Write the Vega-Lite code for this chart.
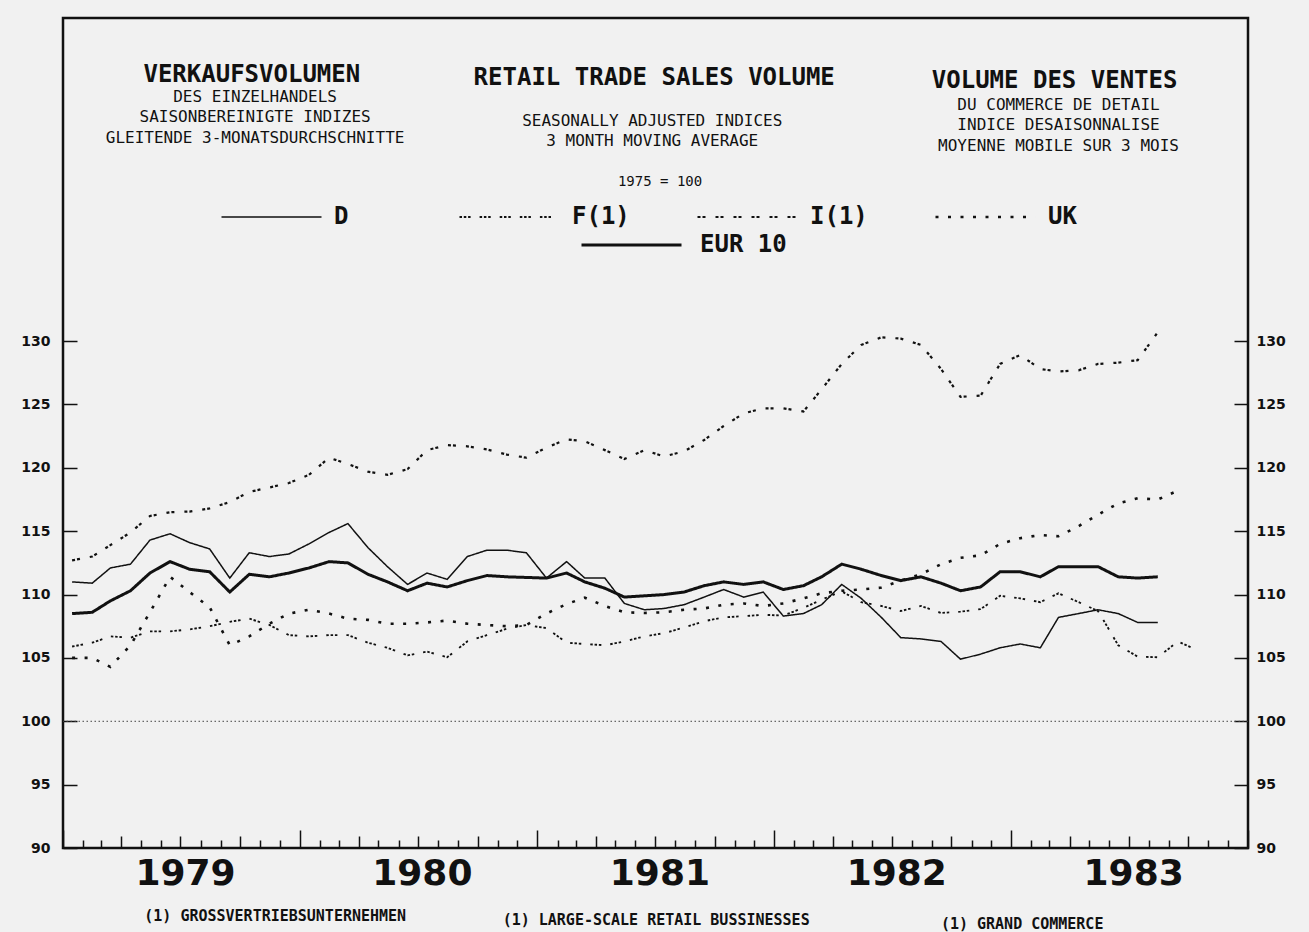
{
  "$schema": "https://vega.github.io/schema/vega-lite/v6.json",
  "width": 1185,
  "height": 830,
  "autosize": "none",
  "padding": {"left": 63, "top": 18, "right": 61, "bottom": 84},
  "background": "#f1f1f1",
  "config": {"view": {"stroke": "#111", "strokeWidth": 2.5}, "font": "DejaVu Sans Mono"},
  "datasets": {
    "rows": [
      {"series":"D","date":"1979-01-15","value":111.0},{"series":"D","date":"1979-02-15","value":110.9},{"series":"D","date":"1979-03-15","value":112.1},{"series":"D","date":"1979-04-15","value":112.4},{"series":"D","date":"1979-05-15","value":114.3},{"series":"D","date":"1979-06-15","value":114.8},{"series":"D","date":"1979-07-15","value":114.1},{"series":"D","date":"1979-08-15","value":113.6},{"series":"D","date":"1979-09-15","value":111.3},{"series":"D","date":"1979-10-15","value":113.3},{"series":"D","date":"1979-11-15","value":113.0},{"series":"D","date":"1979-12-15","value":113.2},
      {"series":"D","date":"1980-01-15","value":114.0},{"series":"D","date":"1980-02-15","value":114.9},{"series":"D","date":"1980-03-15","value":115.6},{"series":"D","date":"1980-04-15","value":113.7},{"series":"D","date":"1980-05-15","value":112.2},{"series":"D","date":"1980-06-15","value":110.8},{"series":"D","date":"1980-07-15","value":111.7},{"series":"D","date":"1980-08-15","value":111.2},{"series":"D","date":"1980-09-15","value":113.0},{"series":"D","date":"1980-10-15","value":113.5},{"series":"D","date":"1980-11-15","value":113.5},{"series":"D","date":"1980-12-15","value":113.3},
      {"series":"D","date":"1981-01-15","value":111.3},{"series":"D","date":"1981-02-15","value":112.6},{"series":"D","date":"1981-03-15","value":111.3},{"series":"D","date":"1981-04-15","value":111.3},{"series":"D","date":"1981-05-15","value":109.3},{"series":"D","date":"1981-06-15","value":108.8},{"series":"D","date":"1981-07-15","value":108.9},{"series":"D","date":"1981-08-15","value":109.2},{"series":"D","date":"1981-09-15","value":109.8},{"series":"D","date":"1981-10-15","value":110.4},{"series":"D","date":"1981-11-15","value":109.8},{"series":"D","date":"1981-12-15","value":110.2},
      {"series":"D","date":"1982-01-15","value":108.3},{"series":"D","date":"1982-02-15","value":108.5},{"series":"D","date":"1982-03-15","value":109.2},{"series":"D","date":"1982-04-15","value":110.8},{"series":"D","date":"1982-05-15","value":109.7},{"series":"D","date":"1982-06-15","value":108.2},{"series":"D","date":"1982-07-15","value":106.6},{"series":"D","date":"1982-08-15","value":106.5},{"series":"D","date":"1982-09-15","value":106.3},{"series":"D","date":"1982-10-15","value":104.9},{"series":"D","date":"1982-11-15","value":105.3},{"series":"D","date":"1982-12-15","value":105.8},
      {"series":"D","date":"1983-01-15","value":106.1},{"series":"D","date":"1983-02-15","value":105.8},{"series":"D","date":"1983-03-15","value":108.2},{"series":"D","date":"1983-04-15","value":108.5},{"series":"D","date":"1983-05-15","value":108.8},{"series":"D","date":"1983-06-15","value":108.5},{"series":"D","date":"1983-07-15","value":107.8},{"series":"D","date":"1983-08-15","value":107.8},

      {"series":"EUR 10","date":"1979-01-15","value":108.5},{"series":"EUR 10","date":"1979-02-15","value":108.6},{"series":"EUR 10","date":"1979-03-15","value":109.5},{"series":"EUR 10","date":"1979-04-15","value":110.3},{"series":"EUR 10","date":"1979-05-15","value":111.7},{"series":"EUR 10","date":"1979-06-15","value":112.6},{"series":"EUR 10","date":"1979-07-15","value":112.0},{"series":"EUR 10","date":"1979-08-15","value":111.8},{"series":"EUR 10","date":"1979-09-15","value":110.2},{"series":"EUR 10","date":"1979-10-15","value":111.6},{"series":"EUR 10","date":"1979-11-15","value":111.4},{"series":"EUR 10","date":"1979-12-15","value":111.7},
      {"series":"EUR 10","date":"1980-01-15","value":112.1},{"series":"EUR 10","date":"1980-02-15","value":112.6},{"series":"EUR 10","date":"1980-03-15","value":112.5},{"series":"EUR 10","date":"1980-04-15","value":111.6},{"series":"EUR 10","date":"1980-05-15","value":111.0},{"series":"EUR 10","date":"1980-06-15","value":110.3},{"series":"EUR 10","date":"1980-07-15","value":110.9},{"series":"EUR 10","date":"1980-08-15","value":110.6},{"series":"EUR 10","date":"1980-09-15","value":111.1},{"series":"EUR 10","date":"1980-10-15","value":111.5},{"series":"EUR 10","date":"1980-11-15","value":111.4},{"series":"EUR 10","date":"1980-12-15","value":111.35},
      {"series":"EUR 10","date":"1981-01-15","value":111.3},{"series":"EUR 10","date":"1981-02-15","value":111.7},{"series":"EUR 10","date":"1981-03-15","value":111.0},{"series":"EUR 10","date":"1981-04-15","value":110.5},{"series":"EUR 10","date":"1981-05-15","value":109.8},{"series":"EUR 10","date":"1981-06-15","value":109.9},{"series":"EUR 10","date":"1981-07-15","value":110.0},{"series":"EUR 10","date":"1981-08-15","value":110.2},{"series":"EUR 10","date":"1981-09-15","value":110.7},{"series":"EUR 10","date":"1981-10-15","value":111.0},{"series":"EUR 10","date":"1981-11-15","value":110.8},{"series":"EUR 10","date":"1981-12-15","value":111.0},
      {"series":"EUR 10","date":"1982-01-15","value":110.4},{"series":"EUR 10","date":"1982-02-15","value":110.7},{"series":"EUR 10","date":"1982-03-15","value":111.4},{"series":"EUR 10","date":"1982-04-15","value":112.4},{"series":"EUR 10","date":"1982-05-15","value":112.0},{"series":"EUR 10","date":"1982-06-15","value":111.5},{"series":"EUR 10","date":"1982-07-15","value":111.1},{"series":"EUR 10","date":"1982-08-15","value":111.4},{"series":"EUR 10","date":"1982-09-15","value":110.9},{"series":"EUR 10","date":"1982-10-15","value":110.3},{"series":"EUR 10","date":"1982-11-15","value":110.6},{"series":"EUR 10","date":"1982-12-15","value":111.8},
      {"series":"EUR 10","date":"1983-01-15","value":111.8},{"series":"EUR 10","date":"1983-02-15","value":111.4},{"series":"EUR 10","date":"1983-03-15","value":112.2},{"series":"EUR 10","date":"1983-04-15","value":112.2},{"series":"EUR 10","date":"1983-05-15","value":112.2},{"series":"EUR 10","date":"1983-06-15","value":111.4},{"series":"EUR 10","date":"1983-07-15","value":111.3},{"series":"EUR 10","date":"1983-08-15","value":111.4},

      {"series":"F(1)","date":"1979-01-15","value":105.9},{"series":"F(1)","date":"1979-02-15","value":106.2},{"series":"F(1)","date":"1979-03-15","value":106.7},{"series":"F(1)","date":"1979-04-15","value":106.6},{"series":"F(1)","date":"1979-05-15","value":107.1},{"series":"F(1)","date":"1979-06-15","value":107.1},{"series":"F(1)","date":"1979-07-15","value":107.25},{"series":"F(1)","date":"1979-08-15","value":107.5},{"series":"F(1)","date":"1979-09-15","value":107.85},{"series":"F(1)","date":"1979-10-15","value":108.1},{"series":"F(1)","date":"1979-11-15","value":107.6},{"series":"F(1)","date":"1979-12-15","value":106.8},
      {"series":"F(1)","date":"1980-01-15","value":106.7},{"series":"F(1)","date":"1980-02-15","value":106.8},{"series":"F(1)","date":"1980-03-15","value":106.8},{"series":"F(1)","date":"1980-04-15","value":106.2},{"series":"F(1)","date":"1980-05-15","value":105.8},{"series":"F(1)","date":"1980-06-15","value":105.2},{"series":"F(1)","date":"1980-07-15","value":105.5},{"series":"F(1)","date":"1980-08-15","value":105.05},{"series":"F(1)","date":"1980-09-15","value":106.3},{"series":"F(1)","date":"1980-10-15","value":106.8},{"series":"F(1)","date":"1980-11-15","value":107.3},{"series":"F(1)","date":"1980-12-15","value":107.6},
      {"series":"F(1)","date":"1981-01-15","value":107.35},{"series":"F(1)","date":"1981-02-15","value":106.2},{"series":"F(1)","date":"1981-03-15","value":106.1},{"series":"F(1)","date":"1981-04-15","value":106.0},{"series":"F(1)","date":"1981-05-15","value":106.3},{"series":"F(1)","date":"1981-06-15","value":106.7},{"series":"F(1)","date":"1981-07-15","value":106.95},{"series":"F(1)","date":"1981-08-15","value":107.4},{"series":"F(1)","date":"1981-09-15","value":107.9},{"series":"F(1)","date":"1981-10-15","value":108.2},{"series":"F(1)","date":"1981-11-15","value":108.3},{"series":"F(1)","date":"1981-12-15","value":108.4},
      {"series":"F(1)","date":"1982-01-15","value":108.35},{"series":"F(1)","date":"1982-02-15","value":108.95},{"series":"F(1)","date":"1982-03-15","value":109.6},{"series":"F(1)","date":"1982-04-15","value":110.25},{"series":"F(1)","date":"1982-05-15","value":109.4},{"series":"F(1)","date":"1982-06-15","value":109.1},{"series":"F(1)","date":"1982-07-15","value":108.7},{"series":"F(1)","date":"1982-08-15","value":109.1},{"series":"F(1)","date":"1982-09-15","value":108.55},{"series":"F(1)","date":"1982-10-15","value":108.65},{"series":"F(1)","date":"1982-11-15","value":108.85},{"series":"F(1)","date":"1982-12-15","value":109.9},
      {"series":"F(1)","date":"1983-01-15","value":109.7},{"series":"F(1)","date":"1983-02-15","value":109.4},{"series":"F(1)","date":"1983-03-15","value":110.1},{"series":"F(1)","date":"1983-04-15","value":109.4},{"series":"F(1)","date":"1983-05-15","value":108.7},{"series":"F(1)","date":"1983-06-15","value":106.0},{"series":"F(1)","date":"1983-07-15","value":105.1},{"series":"F(1)","date":"1983-08-15","value":105.05},{"series":"F(1)","date":"1983-09-15","value":106.3},{"series":"F(1)","date":"1983-10-15","value":105.6},

      {"series":"I(1)","date":"1979-01-15","value":112.7},{"series":"I(1)","date":"1979-02-15","value":113.0},{"series":"I(1)","date":"1979-03-15","value":113.9},{"series":"I(1)","date":"1979-04-15","value":114.9},{"series":"I(1)","date":"1979-05-15","value":116.2},{"series":"I(1)","date":"1979-06-15","value":116.5},{"series":"I(1)","date":"1979-07-15","value":116.55},{"series":"I(1)","date":"1979-08-15","value":116.8},{"series":"I(1)","date":"1979-09-15","value":117.3},{"series":"I(1)","date":"1979-10-15","value":118.1},{"series":"I(1)","date":"1979-11-15","value":118.45},{"series":"I(1)","date":"1979-12-15","value":118.8},
      {"series":"I(1)","date":"1980-01-15","value":119.45},{"series":"I(1)","date":"1980-02-15","value":120.8},{"series":"I(1)","date":"1980-03-15","value":120.3},{"series":"I(1)","date":"1980-04-15","value":119.7},{"series":"I(1)","date":"1980-05-15","value":119.45},{"series":"I(1)","date":"1980-06-15","value":119.9},{"series":"I(1)","date":"1980-07-15","value":121.4},{"series":"I(1)","date":"1980-08-15","value":121.8},{"series":"I(1)","date":"1980-09-15","value":121.7},{"series":"I(1)","date":"1980-10-15","value":121.45},{"series":"I(1)","date":"1980-11-15","value":121.05},{"series":"I(1)","date":"1980-12-15","value":120.8},
      {"series":"I(1)","date":"1981-01-15","value":121.6},{"series":"I(1)","date":"1981-02-15","value":122.25},{"series":"I(1)","date":"1981-03-15","value":122.1},{"series":"I(1)","date":"1981-04-15","value":121.4},{"series":"I(1)","date":"1981-05-15","value":120.7},{"series":"I(1)","date":"1981-06-15","value":121.4},{"series":"I(1)","date":"1981-07-15","value":120.9},{"series":"I(1)","date":"1981-08-15","value":121.3},{"series":"I(1)","date":"1981-09-15","value":122.2},{"series":"I(1)","date":"1981-10-15","value":123.3},{"series":"I(1)","date":"1981-11-15","value":124.3},{"series":"I(1)","date":"1981-12-15","value":124.7},
      {"series":"I(1)","date":"1982-01-15","value":124.7},{"series":"I(1)","date":"1982-02-15","value":124.45},{"series":"I(1)","date":"1982-03-15","value":126.2},{"series":"I(1)","date":"1982-04-15","value":128.2},{"series":"I(1)","date":"1982-05-15","value":129.7},{"series":"I(1)","date":"1982-06-15","value":130.3},{"series":"I(1)","date":"1982-07-15","value":130.2},{"series":"I(1)","date":"1982-08-15","value":129.7},{"series":"I(1)","date":"1982-09-15","value":127.8},{"series":"I(1)","date":"1982-10-15","value":125.6},{"series":"I(1)","date":"1982-11-15","value":125.7},{"series":"I(1)","date":"1982-12-15","value":128.2},
      {"series":"I(1)","date":"1983-01-15","value":128.9},{"series":"I(1)","date":"1983-02-15","value":127.8},{"series":"I(1)","date":"1983-03-15","value":127.6},{"series":"I(1)","date":"1983-04-15","value":127.7},{"series":"I(1)","date":"1983-05-15","value":128.2},{"series":"I(1)","date":"1983-06-15","value":128.3},{"series":"I(1)","date":"1983-07-15","value":128.5},{"series":"I(1)","date":"1983-08-15","value":130.7},

      {"series":"UK","date":"1979-01-15","value":105.0},{"series":"UK","date":"1979-02-15","value":105.0},{"series":"UK","date":"1979-03-15","value":104.3},{"series":"UK","date":"1979-04-15","value":106.0},{"series":"UK","date":"1979-05-15","value":108.6},{"series":"UK","date":"1979-06-15","value":111.4},{"series":"UK","date":"1979-07-15","value":110.2},{"series":"UK","date":"1979-08-15","value":109.0},{"series":"UK","date":"1979-09-15","value":106.0},{"series":"UK","date":"1979-10-15","value":106.7},{"series":"UK","date":"1979-11-15","value":107.7},{"series":"UK","date":"1979-12-15","value":108.5},
      {"series":"UK","date":"1980-01-15","value":108.8},{"series":"UK","date":"1980-02-15","value":108.5},{"series":"UK","date":"1980-03-15","value":108.1},{"series":"UK","date":"1980-04-15","value":108.0},{"series":"UK","date":"1980-05-15","value":107.7},{"series":"UK","date":"1980-06-15","value":107.7},{"series":"UK","date":"1980-07-15","value":107.8},{"series":"UK","date":"1980-08-15","value":107.95},{"series":"UK","date":"1980-09-15","value":107.7},{"series":"UK","date":"1980-10-15","value":107.6},{"series":"UK","date":"1980-11-15","value":107.5},{"series":"UK","date":"1980-12-15","value":107.6},
      {"series":"UK","date":"1981-01-15","value":108.5},{"series":"UK","date":"1981-02-15","value":109.25},{"series":"UK","date":"1981-03-15","value":109.75},{"series":"UK","date":"1981-04-15","value":109.1},{"series":"UK","date":"1981-05-15","value":108.6},{"series":"UK","date":"1981-06-15","value":108.55},{"series":"UK","date":"1981-07-15","value":108.6},{"series":"UK","date":"1981-08-15","value":108.8},{"series":"UK","date":"1981-09-15","value":108.9},{"series":"UK","date":"1981-10-15","value":109.2},{"series":"UK","date":"1981-11-15","value":109.3},{"series":"UK","date":"1981-12-15","value":109.1},
      {"series":"UK","date":"1982-01-15","value":109.3},{"series":"UK","date":"1982-02-15","value":109.7},{"series":"UK","date":"1982-03-15","value":110.1},{"series":"UK","date":"1982-04-15","value":110.3},{"series":"UK","date":"1982-05-15","value":110.4},{"series":"UK","date":"1982-06-15","value":110.55},{"series":"UK","date":"1982-07-15","value":111.1},{"series":"UK","date":"1982-08-15","value":111.6},{"series":"UK","date":"1982-09-15","value":112.4},{"series":"UK","date":"1982-10-15","value":112.9},{"series":"UK","date":"1982-11-15","value":113.1},{"series":"UK","date":"1982-12-15","value":114.0},
      {"series":"UK","date":"1983-01-15","value":114.45},{"series":"UK","date":"1983-02-15","value":114.7},{"series":"UK","date":"1983-03-15","value":114.6},{"series":"UK","date":"1983-04-15","value":115.4},{"series":"UK","date":"1983-05-15","value":116.3},{"series":"UK","date":"1983-06-15","value":117.2},{"series":"UK","date":"1983-07-15","value":117.6},{"series":"UK","date":"1983-08-15","value":117.5},{"series":"UK","date":"1983-09-15","value":118.2}
    ]
  },
  "layer": [
    {
      "data": {"name": "rows"},
      "transform": [{"filter": "datum.series != 'EUR 10'"}],
      "mark": {"type": "line", "color": "#111", "strokeCap": "butt"},
      "encoding": {
        "x": {
          "field": "date", "type": "temporal",
          "scale": {"type": "utc", "nice": false, "domain": [{"year": 1979, "month": 1, "date": 1, "utc": true}, {"year": 1984, "month": 1, "date": 1, "utc": true}]},
          "axis": {
            "orient": "bottom", "title": null, "domain": false, "grid": false,
            "tickCount": {"interval": "month", "step": 1},
            "tickSize": {"expr": "utcmonth(datum.value) == 0 ? -18 : (utcmonth(datum.value) % 3 == 0 ? -12 : -8)"},
            "tickColor": "#111", "tickWidth": 1.5,
            "labelExpr": "utcmonth(datum.value) == 0 && utcyear(datum.value) < 1984 ? utcFormat(datum.value, '%Y') : ''",
            "labelOffset": 122, "labelPadding": 54, "labelBaseline": "alphabetic",
            "labelFont": "DejaVu Sans", "labelFontSize": 36, "labelFontWeight": "bold", "labelColor": "#111",
            "labelOverlap": false, "labelFlush": false, "labelBound": false
          }
        },
        "y": {
          "field": "value", "type": "quantitative",
          "scale": {"domain": [90, 155.5], "nice": false, "zero": false},
          "axis": {
            "orient": "left", "title": null, "domain": false, "grid": false,
            "values": [90, 95, 100, 105, 110, 115, 120, 125, 130],
            "tickSize": -14, "tickWidth": 1.5, "tickColor": "#111",
            "labelPadding": 27, "labelFont": "DejaVu Sans", "labelFontSize": 14, "labelFontWeight": "bold", "labelColor": "#111",
            "labelFlush": false, "labelOverlap": false
          }
        },
        "strokeDash": {
          "field": "series", "type": "nominal",
          "scale": {"domain": ["D", "F(1)", "I(1)", "UK"], "range": [[1, 0], [2.5, 1.8, 2.5, 1.8, 2.5, 9], [3, 2, 3, 10], [3, 9.5]]},
          "legend": {"orient": "none", "legendX": 157, "legendY": 187, "direction": "horizontal", "columns": 4, "title": null, "symbolType": "stroke", "symbolSize": 10000, "symbolStrokeColor": "#111", "clipHeight": 24, "labelFont": "DejaVu Sans Mono", "labelFontSize": 24, "labelFontWeight": "bold", "labelColor": "#111", "labelOffset": 11, "columnPadding": 66, "padding": 0, "gridAlign": "all", "labelLimit": 300}
        },
        "strokeWidth": {
          "field": "series", "type": "nominal",
          "scale": {"domain": ["D", "F(1)", "I(1)", "UK"], "range": [1.5, 2.6, 2.6, 2.6]},
          "legend": {"orient": "none", "legendX": 157, "legendY": 187, "direction": "horizontal", "columns": 4, "title": null, "symbolType": "stroke", "symbolSize": 10000, "symbolStrokeColor": "#111", "clipHeight": 24, "labelFont": "DejaVu Sans Mono", "labelFontSize": 24, "labelFontWeight": "bold", "labelColor": "#111", "labelOffset": 11, "columnPadding": 66, "padding": 0, "gridAlign": "all", "labelLimit": 300}
        }
      }
    },
    {
      "data": {"name": "rows"},
      "transform": [{"filter": "datum.series == 'EUR 10'"}],
      "mark": {"type": "line", "color": "#111", "strokeWidth": 3},
      "encoding": {
        "x": {"field": "date", "type": "temporal", "scale": {"type": "utc", "nice": false, "domain": [{"year": 1979, "month": 1, "date": 1, "utc": true}, {"year": 1984, "month": 1, "date": 1, "utc": true}]}},
        "y": {
          "field": "value", "type": "quantitative",
          "scale": {"domain": [90, 155.5], "nice": false, "zero": false},
          "axis": {
            "orient": "right", "title": null, "domain": false, "grid": false,
            "values": [90, 95, 100, 105, 110, 115, 120, 125, 130],
            "tickSize": -14, "tickWidth": 1.5, "tickColor": "#111",
            "labelPadding": 22, "labelFont": "DejaVu Sans", "labelFontSize": 14, "labelFontWeight": "bold", "labelColor": "#111",
            "labelFlush": false, "labelOverlap": false
          }
        },
        "strokeDash": {
          "field": "series", "type": "nominal",
          "scale": {"domain": ["EUR 10"], "range": [[1, 0]]},
          "legend": {"orient": "none", "legendX": 517, "legendY": 215, "title": null, "symbolType": "stroke", "symbolSize": 10000, "symbolStrokeWidth": 3, "symbolStrokeColor": "#111", "clipHeight": 24, "labelFont": "DejaVu Sans Mono", "labelFontSize": 24, "labelFontWeight": "bold", "labelColor": "#111", "labelOffset": 17, "padding": 0, "labelLimit": 300}
        }
      }
    },
    {
      "data": {"values": [{}]},
      "mark": {"type": "rule", "color": "#444", "strokeWidth": 1, "strokeDash": [1.5, 2.5]},
      "encoding": {"y": {"datum": 100, "type": "quantitative", "scale": {"domain": [90, 155.5], "nice": false, "zero": false}, "axis": null}}
    },
    {
      "data": {"values": [{}]},
      "mark": {"type": "text", "text": "VERKAUFSVOLUMEN", "font": "DejaVu Sans Mono", "fontSize": 24, "fontWeight": "bold", "align": "center", "baseline": "alphabetic", "color": "#111"},
      "encoding": {
        "x": {"datum": {"year": 1979, "month": 10, "date": 19, "utc": true}, "type": "temporal", "scale": {"type": "utc", "nice": false, "domain": [{"year": 1979, "month": 1, "date": 1, "utc": true}, {"year": 1984, "month": 1, "date": 1, "utc": true}]}},
        "y": {"datum": 150.46, "type": "quantitative", "scale": {"domain": [90, 155.5], "nice": false, "zero": false}, "axis": null}
      }
    },
    {
      "data": {"values": [{}]},
      "mark": {"type": "text", "text": ["DES EINZELHANDELS", "SAISONBEREINIGTE INDIZES", "GLEITENDE 3-MONATSDURCHSCHNITTE"], "font": "DejaVu Sans Mono", "fontSize": 16, "lineHeight": 20.5, "align": "center", "baseline": "alphabetic", "color": "#111"},
      "encoding": {
        "x": {"datum": {"year": 1979, "month": 10, "date": 24, "utc": true}, "type": "temporal", "scale": {"type": "utc", "nice": false, "domain": [{"year": 1979, "month": 1, "date": 1, "utc": true}, {"year": 1984, "month": 1, "date": 1, "utc": true}]}},
        "y": {"datum": 148.88, "type": "quantitative", "scale": {"domain": [90, 155.5], "nice": false, "zero": false}, "axis": null}
      }
    },
    {
      "data": {"values": [{}]},
      "mark": {"type": "text", "text": "RETAIL TRADE SALES VOLUME", "font": "DejaVu Sans Mono", "fontSize": 24, "fontWeight": "bold", "align": "center", "baseline": "alphabetic", "color": "#111"},
      "encoding": {
        "x": {"datum": {"year": 1981, "month": 6, "date": 30, "utc": true}, "type": "temporal", "scale": {"type": "utc", "nice": false, "domain": [{"year": 1979, "month": 1, "date": 1, "utc": true}, {"year": 1984, "month": 1, "date": 1, "utc": true}]}},
        "y": {"datum": 150.22, "type": "quantitative", "scale": {"domain": [90, 155.5], "nice": false, "zero": false}, "axis": null}
      }
    },
    {
      "data": {"values": [{}]},
      "mark": {"type": "text", "text": ["SEASONALLY ADJUSTED INDICES", "3 MONTH MOVING AVERAGE"], "font": "DejaVu Sans Mono", "fontSize": 16, "lineHeight": 20.5, "align": "center", "baseline": "alphabetic", "color": "#111"},
      "encoding": {
        "x": {"datum": {"year": 1981, "month": 6, "date": 27, "utc": true}, "type": "temporal", "scale": {"type": "utc", "nice": false, "domain": [{"year": 1979, "month": 1, "date": 1, "utc": true}, {"year": 1984, "month": 1, "date": 1, "utc": true}]}},
        "y": {"datum": 146.99, "type": "quantitative", "scale": {"domain": [90, 155.5], "nice": false, "zero": false}, "axis": null}
      }
    },
    {
      "data": {"values": [{}]},
      "mark": {"type": "text", "text": "1975 = 100", "font": "DejaVu Sans Mono", "fontSize": 14, "align": "center", "baseline": "alphabetic", "color": "#111"},
      "encoding": {
        "x": {"datum": {"year": 1981, "month": 7, "date": 9, "utc": true}, "type": "temporal", "scale": {"type": "utc", "nice": false, "domain": [{"year": 1979, "month": 1, "date": 1, "utc": true}, {"year": 1984, "month": 1, "date": 1, "utc": true}]}},
        "y": {"datum": 142.25, "type": "quantitative", "scale": {"domain": [90, 155.5], "nice": false, "zero": false}, "axis": null}
      }
    },
    {
      "data": {"values": [{}]},
      "mark": {"type": "text", "text": "VOLUME DES VENTES", "font": "DejaVu Sans Mono", "fontSize": 24, "fontWeight": "bold", "align": "center", "baseline": "alphabetic", "color": "#111"},
      "encoding": {
        "x": {"datum": {"year": 1983, "month": 3, "date": 9, "utc": true}, "type": "temporal", "scale": {"type": "utc", "nice": false, "domain": [{"year": 1979, "month": 1, "date": 1, "utc": true}, {"year": 1984, "month": 1, "date": 1, "utc": true}]}},
        "y": {"datum": 149.99, "type": "quantitative", "scale": {"domain": [90, 155.5], "nice": false, "zero": false}, "axis": null}
      }
    },
    {
      "data": {"values": [{}]},
      "mark": {"type": "text", "text": ["DU COMMERCE DE DETAIL", "INDICE DESAISONNALISE", "MOYENNE MOBILE SUR 3 MOIS"], "font": "DejaVu Sans Mono", "fontSize": 16, "lineHeight": 20.5, "align": "center", "baseline": "alphabetic", "color": "#111"},
      "encoding": {
        "x": {"datum": {"year": 1983, "month": 3, "date": 15, "utc": true}, "type": "temporal", "scale": {"type": "utc", "nice": false, "domain": [{"year": 1979, "month": 1, "date": 1, "utc": true}, {"year": 1984, "month": 1, "date": 1, "utc": true}]}},
        "y": {"datum": 148.25, "type": "quantitative", "scale": {"domain": [90, 155.5], "nice": false, "zero": false}, "axis": null}
      }
    },
    {
      "data": {"values": [{}]},
      "mark": {"type": "text", "text": "(1) GROSSVERTRIEBSUNTERNEHMEN", "font": "DejaVu Sans Mono", "fontSize": 15, "fontWeight": "bold", "align": "center", "baseline": "alphabetic", "color": "#111"},
      "encoding": {
        "x": {"datum": {"year": 1979, "month": 11, "date": 24, "utc": true}, "type": "temporal", "scale": {"type": "utc", "nice": false, "domain": [{"year": 1979, "month": 1, "date": 1, "utc": true}, {"year": 1984, "month": 1, "date": 1, "utc": true}]}},
        "y": {"datum": 84.24, "type": "quantitative", "scale": {"domain": [90, 155.5], "nice": false, "zero": false}, "axis": null}
      }
    },
    {
      "data": {"values": [{}]},
      "mark": {"type": "text", "text": "(1) LARGE-SCALE RETAIL BUSSINESSES", "font": "DejaVu Sans Mono", "fontSize": 15, "fontWeight": "bold", "align": "center", "baseline": "alphabetic", "color": "#111"},
      "encoding": {
        "x": {"datum": {"year": 1981, "month": 7, "date": 3, "utc": true}, "type": "temporal", "scale": {"type": "utc", "nice": false, "domain": [{"year": 1979, "month": 1, "date": 1, "utc": true}, {"year": 1984, "month": 1, "date": 1, "utc": true}]}},
        "y": {"datum": 83.92, "type": "quantitative", "scale": {"domain": [90, 155.5], "nice": false, "zero": false}, "axis": null}
      }
    },
    {
      "data": {"values": [{}]},
      "mark": {"type": "text", "text": "(1) GRAND COMMERCE", "font": "DejaVu Sans Mono", "fontSize": 15, "fontWeight": "bold", "align": "center", "baseline": "alphabetic", "color": "#111"},
      "encoding": {
        "x": {"datum": {"year": 1983, "month": 1, "date": 18, "utc": true}, "type": "temporal", "scale": {"type": "utc", "nice": false, "domain": [{"year": 1979, "month": 1, "date": 1, "utc": true}, {"year": 1984, "month": 1, "date": 1, "utc": true}]}},
        "y": {"datum": 83.6, "type": "quantitative", "scale": {"domain": [90, 155.5], "nice": false, "zero": false}, "axis": null}
      }
    }
  ],
  "resolve": {"scale": {"strokeDash": "independent", "strokeWidth": "independent"}, "axis": {"y": "independent"}}
}
